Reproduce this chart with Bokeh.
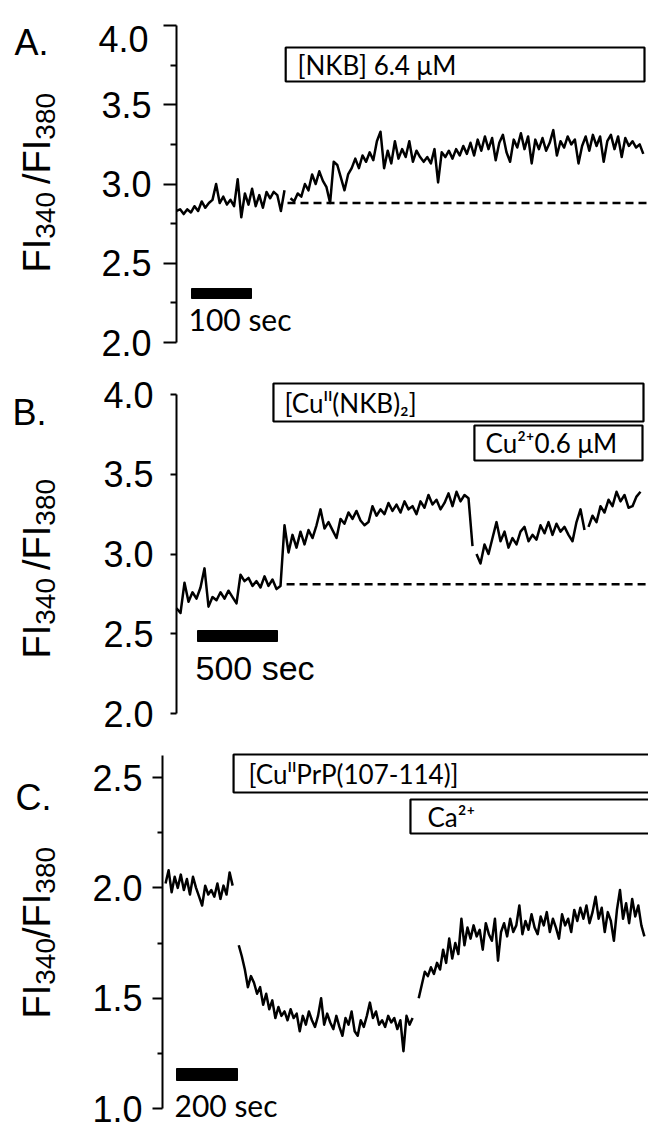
import numpy as np
from bokeh.plotting import figure
from bokeh.models import Range1d, LinearAxis, FixedTicker, Label, PrintfTickFormatter
from bokeh.layouts import column
from bokeh.embed import file_html
from bokeh.resources import INLINE

# ---------------- data (time in s, ratio FI340/FI380) ----------------
# Panel A: [NKB] 6.4 uM
A_dt = 6
A_seg1_t0 = 0
A_seg1 = [2.83, 2.84, 2.81, 2.84, 2.82, 2.86, 2.83, 2.89, 2.85, 2.88, 2.90, 3.00, 2.88, 2.92,
          2.87, 2.90, 2.86, 3.03, 2.79, 2.94, 2.87, 2.97, 2.86, 2.93, 2.85, 2.95, 2.91, 2.95,
          2.93, 2.83, 2.96]
A_seg2_t0 = 190
A_seg2 = [2.91, 2.89, 2.94, 2.92, 3.00, 2.96, 3.06, 3.00, 3.08, 3.02, 2.98, 2.88, 3.14, 3.12,
          3.04, 2.96, 3.06, 3.10, 3.16, 3.10, 3.18, 3.14, 3.20, 3.15, 3.27, 3.33, 3.10, 3.21,
          3.13, 3.27, 3.16, 3.22, 3.17, 3.27, 3.14, 3.21, 3.17, 3.14, 3.17, 3.13, 3.22, 3.01,
          3.20, 3.17, 3.21, 3.16, 3.22, 3.18, 3.24, 3.19, 3.26, 3.18, 3.28, 3.21, 3.30, 3.22,
          3.29, 3.15, 3.26, 3.31, 3.20, 3.14, 3.28, 3.23, 3.32, 3.22, 3.30, 3.13, 3.28, 3.22,
          3.29, 3.21, 3.26, 3.34, 3.18, 3.27, 3.23, 3.30, 3.25, 3.28, 3.13, 3.24, 3.30, 3.21,
          3.31, 3.24, 3.30, 3.14, 3.27, 3.31, 3.22, 3.30, 3.17, 3.29, 3.24, 3.27, 3.23, 3.25,
          3.19]
A_baseline = 2.88
A_baseline_start = 185
A_nkb_start = 182
A_scale_sec = 100

# Panel B: [Cu(II)(NKB)2], then Cu2+ 0.6 uM
B_dt = 25
B_seg1_t0 = 0
B_seg1 = [2.66, 2.63, 2.82, 2.70, 2.76, 2.72, 2.79, 2.91, 2.67, 2.73, 2.71, 2.76, 2.72, 2.77,
          2.73, 2.69, 2.87, 2.83, 2.85, 2.80, 2.83, 2.79, 2.86, 2.80, 2.84, 2.78, 2.80, 3.18,
          3.01, 3.12, 3.04, 3.14, 3.06, 3.15, 3.10, 3.18, 3.28, 3.16, 3.20, 3.15, 3.10, 3.22,
          3.19, 3.26, 3.22, 3.27, 3.21, 3.18, 3.20, 3.30, 3.24, 3.28, 3.25, 3.32, 3.27, 3.31,
          3.26, 3.33, 3.28, 3.30, 3.25, 3.33, 3.29, 3.37, 3.31, 3.34, 3.28, 3.32, 3.38, 3.30,
          3.39, 3.33, 3.37, 3.35, 3.05]
B_seg2_t0 = 1875
B_seg2 = [3.00, 2.94, 3.06, 3.00, 3.10, 3.20, 3.08, 3.14, 3.04, 3.10, 3.06, 3.14, 3.17, 3.08,
          3.12, 3.09, 3.18, 3.13, 3.20, 3.12, 3.19, 3.14, 3.17, 3.12, 3.08, 3.20, 3.28, 3.15]
B_seg3_t0 = 2575
B_seg3 = [3.17, 3.24, 3.20, 3.30, 3.26, 3.34, 3.30, 3.39, 3.33, 3.37, 3.29, 3.30, 3.36, 3.39]
B_baseline = 2.81
B_baseline_start = 688
B_cunkb_start = 606
B_cu_start = 1862
B_scale_sec = 500

# Panel C: [Cu(II)PrP(107-114)], then Ca2+
C_dt = 10
C_seg1_t0 = 10
C_seg1 = [2.02, 2.08, 1.98, 2.05, 2.00, 2.06, 1.99, 2.04, 1.97, 2.05, 2.00, 1.96, 1.92, 2.01,
          1.97, 1.99, 1.96, 2.02, 1.95, 2.01, 1.97, 2.07, 2.01]
C_seg2_t0 = 250
C_seg2 = [1.74, 1.69, 1.63, 1.55, 1.60, 1.57, 1.52, 1.55, 1.47, 1.52, 1.45, 1.49, 1.41, 1.46,
          1.42, 1.44, 1.40, 1.45, 1.41, 1.43, 1.35, 1.42, 1.38, 1.44, 1.40, 1.37, 1.42, 1.50,
          1.38, 1.43, 1.39, 1.36, 1.42, 1.37, 1.33, 1.41, 1.38, 1.44, 1.35, 1.33, 1.40, 1.37,
          1.42, 1.48, 1.41, 1.44, 1.38, 1.40, 1.37, 1.42, 1.39, 1.41, 1.36, 1.40, 1.26, 1.42,
          1.38, 1.41]
C_seg3_t0 = 840
C_seg3 = [1.50, 1.56, 1.62, 1.60, 1.64, 1.61, 1.66, 1.63, 1.72, 1.66, 1.77, 1.68, 1.75, 1.70,
          1.86, 1.74, 1.82, 1.77, 1.83, 1.78, 1.81, 1.72, 1.84, 1.79, 1.76, 1.86, 1.67, 1.80,
          1.84, 1.78, 1.86, 1.80, 1.83, 1.92, 1.79, 1.85, 1.81, 1.88, 1.82, 1.79, 1.87, 1.83,
          1.89, 1.80, 1.86, 1.82, 1.77, 1.88, 1.83, 1.86, 1.80, 1.90, 1.85, 1.91, 1.86, 1.92,
          1.84, 1.89, 1.96, 1.86, 1.91, 1.80, 1.89, 1.85, 1.76, 1.90, 1.99, 1.86, 1.93, 1.84,
          1.95, 1.87, 1.92, 1.83, 1.78]
C_cuprp_start = 233
C_ca_start = 813
C_scale_sec = 200

AB_ticks = [2.0, 2.5, 3.0, 3.5, 4.0]
A_minor = [2.25, 2.75, 3.25, 3.75]
C_ticks = [1.0, 1.5, 2.0, 2.5]
C_minor = [1.25, 1.75, 2.25]

# ---------------- layout helpers ----------------
W = 648
ARIAL = "Liberation Sans"
SANS2 = "Lato"
ADV = {"F": 0.611, "I": 0.278, "/": 0.278, " ": 0.278}


def adv(txt):
    return sum(ADV.get(c, 0.556) for c in txt)


class Geo:
    # maps page pixels -> data units for one panel
    def __init__(self, top, bottom, x0, xs, yref, vref, ys):
        self.top, self.bottom = top, bottom
        self.x0, self.xs, self.yref, self.vref, self.ys = x0, xs, yref, vref, ys

    def X(self, px):
        return (px - self.x0) / self.xs

    def Y(self, py):
        return self.vref - (py - self.yref) / self.ys


def make_fig(g):
    p = figure(width=W, height=g.bottom - g.top,
               x_range=Range1d(g.X(0), g.X(W)), y_range=Range1d(g.Y(g.bottom), g.Y(g.top)),
               output_backend="svg", toolbar_location=None,
               x_axis_type=None, y_axis_type=None, min_border=0)
    p.min_border_left = p.min_border_right = p.min_border_top = p.min_border_bottom = 0
    p.outline_line_color = None
    p.background_fill_color = "white"
    p.border_fill_color = "white"
    return p


def add_axis(p, bounds, ticks, minor, tick_out, minor_out, standoff, overrides=None):
    ax = LinearAxis(fixed_location=0, bounds=bounds,
                    ticker=FixedTicker(ticks=ticks, minor_ticks=minor),
                    formatter=PrintfTickFormatter(format="%.1f"))
    ax.axis_line_width = 2
    ax.axis_line_color = "black"
    ax.major_tick_line_width = 2
    ax.minor_tick_line_width = 2
    ax.major_tick_in = 0
    ax.major_tick_out = tick_out
    ax.minor_tick_in = 0
    ax.minor_tick_out = minor_out
    ax.major_label_text_font = ARIAL
    ax.major_label_text_font_size = "36px"
    ax.major_label_text_color = "black"
    ax.major_label_standoff = standoff
    if overrides:
        ax.major_label_overrides = overrides
    p.add_layout(ax, "left")


def label(p, g, px, py, text, font, size, baseline="middle", align="left", angle=0.0):
    p.add_layout(Label(x=g.X(px), y=g.Y(py), text=text, text_font=font,
                       text_font_size=f"{size}px", text_color="black",
                       text_baseline=baseline, text_align=align, angle=angle))


def ytitle(p, g, base_x, start_y, gap_px, main=38, sub=28, sub_shift=9):
    pieces = [("FI", main, 0), ("340", sub, sub_shift), (None, gap_px, 0),
              ("/FI", main, 0), ("380", sub, sub_shift)]
    y = start_y
    for txt, size, shift in pieces:
        if txt is None:
            y -= size
            continue
        label(p, g, base_x + shift, y, txt, ARIAL, size, baseline="alphabetic",
              angle=np.pi / 2)
        y -= adv(txt) * size


def trace(p, t0, dt, vals):
    t = t0 + dt * np.arange(len(vals))
    p.line(t, vals, line_color="black", line_width=2.5, line_join="round")


def baseline(p, start, end, v):
    p.line([start, end], [v, v], line_color="black", line_width=2.5, line_dash="8 5")


def app_box(p, g, start, px_right, py_top, py_bottom):
    p.quad(left=[start], right=[g.X(px_right)], top=[g.Y(py_top)], bottom=[g.Y(py_bottom)],
           fill_alpha=0, line_color="black", line_width=2.2)


def scale_bar(p, g, px_left, secs, py_top, py_bottom):
    left = g.X(px_left)
    p.quad(left=[left], right=[left + secs], top=[g.Y(py_top)], bottom=[g.Y(py_bottom)],
           fill_color="black", line_color="black")


# ---------------- Panel A ----------------
GA = Geo(0, 368, 176, 0.6, 25, 4.0, 158.5)
pA = make_fig(GA)
add_axis(pA, (2.0, 4.0), AB_ticks, A_minor, 13, 6, 12, overrides={4.0: ""})
label(pA, GA, 148, 38, "4.0", ARIAL, 36, align="right")
baseline(pA, A_baseline_start, GA.X(W), A_baseline)
trace(pA, A_seg1_t0, A_dt, A_seg1)
trace(pA, A_seg2_t0, A_dt, A_seg2)
app_box(pA, GA, A_nkb_start, 644, 47, 81)
label(pA, GA, 297, 64, "[NKB] 6.4 μM", SANS2, 26)
scale_bar(pA, GA, 191, A_scale_sec, 288, 298)
label(pA, GA, 188, 318, "100 sec", SANS2, 30)
label(pA, GA, 14, 42, "A.", ARIAL, 36, baseline="alphabetic")
ytitle(pA, GA, 36, 272, 8)

# ---------------- Panel B ----------------
GB = Geo(368, 738, 176, 0.16, 394, 4.0, 159.5)
pB = make_fig(GB)
add_axis(pB, (2.0, 4.0), AB_ticks, [], 6, 0, 17)
baseline(pB, B_baseline_start, GB.X(W), B_baseline)
trace(pB, B_seg1_t0, B_dt, B_seg1)
trace(pB, B_seg2_t0, B_dt, B_seg2)
trace(pB, B_seg3_t0, B_dt, B_seg3)
app_box(pB, GB, B_cunkb_start, 643, 383, 421)
app_box(pB, GB, B_cu_start, 642, 425, 460)
label(pB, GB, 284, 402, "[Cuᴵᴵ(NKB)₂]", SANS2, 26)
label(pB, GB, 485, 442, "Cu²⁺0.6 μM", SANS2, 26)
scale_bar(pB, GB, 197, B_scale_sec, 630, 641)
label(pB, GB, 195, 667, "500 sec", ARIAL, 34)
label(pB, GB, 12, 412, "B.", ARIAL, 36, baseline="alphabetic")
ytitle(pB, GB, 36, 658, 8)

# ---------------- Panel C ----------------
GC = Geo(738, 1128, 162, 0.305, 777, 2.5, 220.7)
pC = make_fig(GC)
add_axis(pC, (1.0, 2.6), C_ticks, C_minor, 10, 5, 10)
trace(pC, C_seg1_t0, C_dt, C_seg1)
trace(pC, C_seg2_t0, C_dt, C_seg2)
trace(pC, C_seg3_t0, C_dt, C_seg3)
app_box(pC, GC, C_cuprp_start, 670, 754, 792)
app_box(pC, GC, C_ca_start, 670, 799, 833)
label(pC, GC, 248, 773, "[CuᴵᴵPrP(107-114)]", SANS2, 26)
label(pC, GC, 427, 816, "Ca²⁺", SANS2, 26)
scale_bar(pC, GC, 176, C_scale_sec, 1068, 1080)
label(pC, GC, 174, 1104, "200 sec", SANS2, 30)
label(pC, GC, 15, 797, "C.", ARIAL, 36, baseline="alphabetic")
ytitle(pC, GC, 36, 1018, 0)

layout = column(pA, pB, pC)
open("out.html", "w").write(file_html(layout, INLINE))
